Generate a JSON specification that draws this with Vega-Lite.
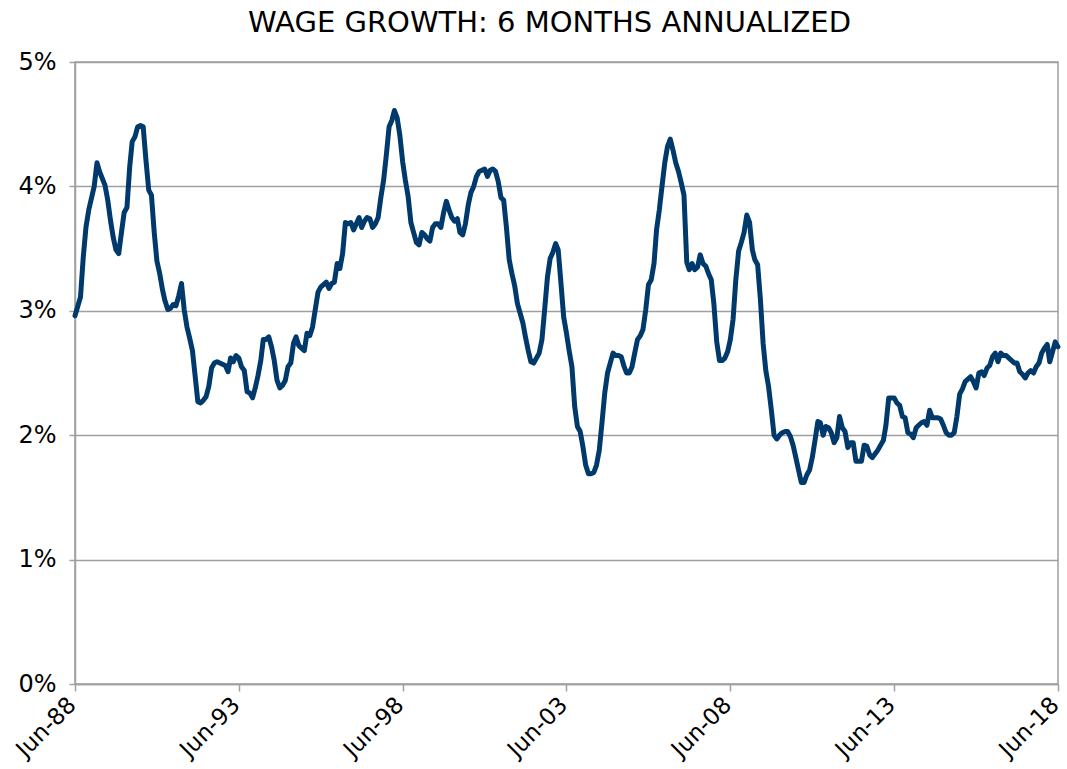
{
 "$schema": "https://vega.github.io/schema/vega-lite/v6.json",
 "width": 983,
 "height": 622,
 "autosize": {"type": "none"},
 "padding": {"left": 75, "top": 62, "right": 9, "bottom": 85},
 "background": "white",
 "title": {"text": "WAGE GROWTH: 6 MONTHS ANNUALIZED", "font": "DejaVu Sans", "fontSize": 29, "fontWeight": "normal", "color": "#000000", "anchor": "middle", "frame": "group", "dx": -17, "dy": 28, "offset": 17, "baseline": "alphabetic"},
 "config": {"view": {"stroke": "#a0a0a0", "strokeWidth": 1.5}, "font": "DejaVu Sans"},
 "data": {
  "format": {"parse": {"d": "utc:'%Y-%m'"}},
  "values": [
   {"d":"1988-06","v":2.96},{"d":"1988-08","v":3.11},{"d":"1988-09","v":3.43},{"d":"1988-10","v":3.67},{"d":"1988-11","v":3.81},
   {"d":"1989-01","v":4.00},{"d":"1989-02","v":4.19},{"d":"1989-03","v":4.12},{"d":"1989-05","v":4.01},{"d":"1989-06","v":3.89},{"d":"1989-07","v":3.73},{"d":"1989-08","v":3.59},{"d":"1989-09","v":3.49},{"d":"1989-10","v":3.46},{"d":"1989-11","v":3.63},{"d":"1989-12","v":3.79},
   {"d":"1990-01","v":3.83},{"d":"1990-02","v":4.16},{"d":"1990-03","v":4.36},{"d":"1990-04","v":4.40},{"d":"1990-05","v":4.48},{"d":"1990-06","v":4.49},{"d":"1990-07","v":4.48},{"d":"1990-08","v":4.21},{"d":"1990-09","v":3.97},{"d":"1990-10","v":3.93},{"d":"1990-11","v":3.63},{"d":"1990-12","v":3.40},
   {"d":"1991-01","v":3.30},{"d":"1991-02","v":3.17},{"d":"1991-03","v":3.08},{"d":"1991-04","v":3.01},{"d":"1991-05","v":3.02},{"d":"1991-06","v":3.05},{"d":"1991-07","v":3.04},{"d":"1991-08","v":3.12},{"d":"1991-09","v":3.22},{"d":"1991-10","v":3.01},{"d":"1991-11","v":2.87},{"d":"1991-12","v":2.78},
   {"d":"1992-01","v":2.68},{"d":"1992-02","v":2.47},{"d":"1992-03","v":2.27},{"d":"1992-04","v":2.26},{"d":"1992-05","v":2.28},{"d":"1992-06","v":2.31},{"d":"1992-07","v":2.39},{"d":"1992-08","v":2.54},{"d":"1992-09","v":2.58},{"d":"1992-10","v":2.59},{"d":"1992-11","v":2.58},{"d":"1992-12","v":2.57},
   {"d":"1993-01","v":2.56},{"d":"1993-02","v":2.51},{"d":"1993-03","v":2.62},{"d":"1993-04","v":2.59},{"d":"1993-05","v":2.64},{"d":"1993-06","v":2.62},{"d":"1993-07","v":2.55},{"d":"1993-08","v":2.52},{"d":"1993-09","v":2.35},{"d":"1993-10","v":2.34},{"d":"1993-11","v":2.30},{"d":"1993-12","v":2.38},
   {"d":"1994-01","v":2.48},{"d":"1994-02","v":2.60},{"d":"1994-03","v":2.77},{"d":"1994-04","v":2.77},{"d":"1994-05","v":2.79},{"d":"1994-06","v":2.71},{"d":"1994-07","v":2.60},{"d":"1994-08","v":2.44},{"d":"1994-09","v":2.38},{"d":"1994-10","v":2.40},{"d":"1994-11","v":2.44},{"d":"1994-12","v":2.55},
   {"d":"1995-01","v":2.58},{"d":"1995-02","v":2.74},{"d":"1995-03","v":2.79},{"d":"1995-04","v":2.72},{"d":"1995-05","v":2.70},{"d":"1995-06","v":2.68},{"d":"1995-07","v":2.82},{"d":"1995-08","v":2.80},{"d":"1995-09","v":2.87},{"d":"1995-10","v":3.01},{"d":"1995-11","v":3.15},{"d":"1995-12","v":3.19},
   {"d":"1996-01","v":3.21},{"d":"1996-02","v":3.23},{"d":"1996-03","v":3.18},{"d":"1996-04","v":3.22},{"d":"1996-05","v":3.23},{"d":"1996-06","v":3.38},{"d":"1996-07","v":3.34},{"d":"1996-08","v":3.46},{"d":"1996-09","v":3.71},{"d":"1996-10","v":3.70},{"d":"1996-11","v":3.71},{"d":"1996-12","v":3.65},
   {"d":"1997-01","v":3.70},{"d":"1997-02","v":3.75},{"d":"1997-03","v":3.67},{"d":"1997-04","v":3.72},{"d":"1997-05","v":3.75},{"d":"1997-06","v":3.74},{"d":"1997-07","v":3.67},{"d":"1997-08","v":3.70},{"d":"1997-09","v":3.75},{"d":"1997-10","v":3.91},{"d":"1997-11","v":4.05},{"d":"1997-12","v":4.25},
   {"d":"1998-01","v":4.48},{"d":"1998-02","v":4.53},{"d":"1998-03","v":4.61},{"d":"1998-04","v":4.55},{"d":"1998-05","v":4.41},{"d":"1998-06","v":4.20},{"d":"1998-07","v":4.05},{"d":"1998-08","v":3.92},{"d":"1998-09","v":3.71},{"d":"1998-10","v":3.63},{"d":"1998-11","v":3.55},{"d":"1998-12","v":3.53},
   {"d":"1999-01","v":3.63},{"d":"1999-02","v":3.61},{"d":"1999-03","v":3.58},{"d":"1999-04","v":3.56},{"d":"1999-05","v":3.67},{"d":"1999-06","v":3.70},{"d":"1999-07","v":3.70},{"d":"1999-08","v":3.67},{"d":"1999-09","v":3.79},{"d":"1999-10","v":3.88},{"d":"1999-11","v":3.81},{"d":"1999-12","v":3.75},
   {"d":"2000-01","v":3.72},{"d":"2000-02","v":3.74},{"d":"2000-03","v":3.63},{"d":"2000-04","v":3.61},{"d":"2000-05","v":3.70},{"d":"2000-06","v":3.85},{"d":"2000-07","v":3.95},{"d":"2000-08","v":4.00},{"d":"2000-09","v":4.08},{"d":"2000-10","v":4.12},{"d":"2000-11","v":4.13},{"d":"2000-12","v":4.14},
   {"d":"2001-01","v":4.08},{"d":"2001-02","v":4.13},{"d":"2001-03","v":4.14},{"d":"2001-04","v":4.12},{"d":"2001-05","v":4.04},{"d":"2001-06","v":3.91},{"d":"2001-07","v":3.89},{"d":"2001-08","v":3.67},{"d":"2001-09","v":3.41},{"d":"2001-10","v":3.30},{"d":"2001-11","v":3.20},{"d":"2001-12","v":3.06},
   {"d":"2002-01","v":2.98},{"d":"2002-02","v":2.90},{"d":"2002-03","v":2.79},{"d":"2002-04","v":2.68},{"d":"2002-05","v":2.59},{"d":"2002-06","v":2.58},{"d":"2002-07","v":2.62},{"d":"2002-08","v":2.66},{"d":"2002-09","v":2.77},{"d":"2002-10","v":3.01},{"d":"2002-11","v":3.27},{"d":"2002-12","v":3.42},
   {"d":"2003-01","v":3.47},{"d":"2003-02","v":3.54},{"d":"2003-03","v":3.49},{"d":"2003-04","v":3.22},{"d":"2003-05","v":2.95},{"d":"2003-06","v":2.82},{"d":"2003-07","v":2.68},{"d":"2003-08","v":2.55},{"d":"2003-09","v":2.23},{"d":"2003-10","v":2.07},{"d":"2003-11","v":2.03},{"d":"2003-12","v":1.91},
   {"d":"2004-01","v":1.76},{"d":"2004-02","v":1.69},{"d":"2004-03","v":1.69},{"d":"2004-04","v":1.70},{"d":"2004-05","v":1.76},{"d":"2004-06","v":1.88},{"d":"2004-07","v":2.10},{"d":"2004-08","v":2.34},{"d":"2004-09","v":2.50},{"d":"2004-10","v":2.58},{"d":"2004-11","v":2.66},{"d":"2004-12","v":2.64},
   {"d":"2005-01","v":2.64},{"d":"2005-02","v":2.63},{"d":"2005-03","v":2.56},{"d":"2005-04","v":2.50},{"d":"2005-05","v":2.50},{"d":"2005-06","v":2.55},{"d":"2005-07","v":2.66},{"d":"2005-08","v":2.77},{"d":"2005-09","v":2.80},{"d":"2005-10","v":2.85},{"d":"2005-11","v":3.01},{"d":"2005-12","v":3.21},
   {"d":"2006-01","v":3.25},{"d":"2006-02","v":3.38},{"d":"2006-03","v":3.65},{"d":"2006-04","v":3.81},{"d":"2006-05","v":4.00},{"d":"2006-06","v":4.19},{"d":"2006-07","v":4.32},{"d":"2006-08","v":4.38},{"d":"2006-09","v":4.29},{"d":"2006-10","v":4.19},{"d":"2006-11","v":4.12},{"d":"2006-12","v":4.03},
   {"d":"2007-01","v":3.93},{"d":"2007-02","v":3.39},{"d":"2007-03","v":3.33},{"d":"2007-04","v":3.38},{"d":"2007-05","v":3.33},{"d":"2007-06","v":3.35},{"d":"2007-07","v":3.45},{"d":"2007-08","v":3.38},{"d":"2007-09","v":3.36},{"d":"2007-10","v":3.30},{"d":"2007-11","v":3.25},{"d":"2007-12","v":3.05},
   {"d":"2008-01","v":2.75},{"d":"2008-02","v":2.60},{"d":"2008-03","v":2.60},{"d":"2008-04","v":2.62},{"d":"2008-05","v":2.67},{"d":"2008-06","v":2.77},{"d":"2008-07","v":2.93},{"d":"2008-08","v":3.25},{"d":"2008-09","v":3.48},{"d":"2008-10","v":3.55},{"d":"2008-11","v":3.63},{"d":"2008-12","v":3.77},
   {"d":"2009-01","v":3.71},{"d":"2009-02","v":3.49},{"d":"2009-03","v":3.41},{"d":"2009-04","v":3.37},{"d":"2009-05","v":3.10},{"d":"2009-06","v":2.74},{"d":"2009-07","v":2.52},{"d":"2009-08","v":2.39},{"d":"2009-09","v":2.20},{"d":"2009-10","v":2.00},{"d":"2009-11","v":1.97},{"d":"2009-12","v":2.00},
   {"d":"2010-01","v":2.02},{"d":"2010-02","v":2.03},{"d":"2010-03","v":2.03},{"d":"2010-04","v":1.99},{"d":"2010-05","v":1.92},{"d":"2010-06","v":1.82},{"d":"2010-07","v":1.72},{"d":"2010-08","v":1.62},{"d":"2010-09","v":1.62},{"d":"2010-10","v":1.68},{"d":"2010-11","v":1.72},{"d":"2010-12","v":1.82},
   {"d":"2011-01","v":1.96},{"d":"2011-02","v":2.11},{"d":"2011-03","v":2.10},{"d":"2011-04","v":2.00},{"d":"2011-05","v":2.07},{"d":"2011-06","v":2.06},{"d":"2011-07","v":2.02},{"d":"2011-08","v":1.94},{"d":"2011-09","v":1.98},{"d":"2011-10","v":2.15},{"d":"2011-11","v":2.06},{"d":"2011-12","v":2.03},
   {"d":"2012-01","v":1.90},{"d":"2012-02","v":1.94},{"d":"2012-03","v":1.94},{"d":"2012-04","v":1.79},{"d":"2012-05","v":1.79},{"d":"2012-06","v":1.79},{"d":"2012-07","v":1.92},{"d":"2012-08","v":1.91},{"d":"2012-09","v":1.84},{"d":"2012-10","v":1.82},{"d":"2012-11","v":1.85},{"d":"2012-12","v":1.88},
   {"d":"2013-01","v":1.92},{"d":"2013-02","v":1.96},{"d":"2013-03","v":2.08},{"d":"2013-04","v":2.30},{"d":"2013-05","v":2.30},{"d":"2013-06","v":2.30},{"d":"2013-07","v":2.26},{"d":"2013-08","v":2.24},{"d":"2013-09","v":2.15},{"d":"2013-10","v":2.14},{"d":"2013-11","v":2.02},{"d":"2013-12","v":2.01},
   {"d":"2014-01","v":1.98},{"d":"2014-02","v":2.06},{"d":"2014-03","v":2.08},{"d":"2014-04","v":2.10},{"d":"2014-05","v":2.11},{"d":"2014-06","v":2.08},{"d":"2014-07","v":2.20},{"d":"2014-08","v":2.14},{"d":"2014-09","v":2.14},{"d":"2014-10","v":2.14},{"d":"2014-11","v":2.13},{"d":"2014-12","v":2.08},
   {"d":"2015-01","v":2.02},{"d":"2015-02","v":2.00},{"d":"2015-03","v":2.00},{"d":"2015-04","v":2.02},{"d":"2015-05","v":2.15},{"d":"2015-06","v":2.33},{"d":"2015-07","v":2.37},{"d":"2015-08","v":2.43},{"d":"2015-09","v":2.45},{"d":"2015-10","v":2.47},{"d":"2015-11","v":2.43},{"d":"2015-12","v":2.38},
   {"d":"2016-01","v":2.50},{"d":"2016-02","v":2.51},{"d":"2016-03","v":2.48},{"d":"2016-04","v":2.54},{"d":"2016-05","v":2.56},{"d":"2016-06","v":2.63},{"d":"2016-07","v":2.66},{"d":"2016-08","v":2.59},{"d":"2016-09","v":2.66},{"d":"2016-10","v":2.64},{"d":"2016-11","v":2.64},{"d":"2016-12","v":2.62},
   {"d":"2017-01","v":2.60},{"d":"2017-02","v":2.58},{"d":"2017-03","v":2.58},{"d":"2017-04","v":2.51},{"d":"2017-05","v":2.49},{"d":"2017-06","v":2.46},{"d":"2017-07","v":2.50},{"d":"2017-08","v":2.52},{"d":"2017-09","v":2.50},{"d":"2017-10","v":2.55},{"d":"2017-11","v":2.58},{"d":"2017-12","v":2.66},
   {"d":"2018-01","v":2.70},{"d":"2018-02","v":2.73},{"d":"2018-03","v":2.59},{"d":"2018-04","v":2.67},{"d":"2018-05","v":2.75},{"d":"2018-06","v":2.71}
  ]
 },
 "mark": {"type": "line", "color": "#003a6c", "strokeWidth": 5, "strokeJoin": "round", "strokeCap": "round"},
 "encoding": {
  "x": {
   "field": "d", "type": "temporal",
   "scale": {"type": "utc", "domain": [{"year": 1988, "month": 6, "date": 1, "utc": true}, {"year": 2018, "month": 6, "date": 1, "utc": true}]},
   "axis": {
    "values": [
     {"year": 1988, "month": 6, "date": 1, "utc": true},
     {"year": 1993, "month": 6, "date": 1, "utc": true},
     {"year": 1998, "month": 6, "date": 1, "utc": true},
     {"year": 2003, "month": 6, "date": 1, "utc": true},
     {"year": 2008, "month": 6, "date": 1, "utc": true},
     {"year": 2013, "month": 6, "date": 1, "utc": true},
     {"year": 2018, "month": 6, "date": 1, "utc": true}
    ],
    "format": "%b-%y", "labelAngle": -45, "labelAlign": "right", "labelBaseline": "middle",
    "labelFont": "DejaVu Sans", "labelFontSize": 23, "labelColor": "#000000",
    "labelOverlap": false, "labelFlush": false, "labelPadding": 10, "labelOffset": -3,
    "tickColor": "#a0a0a0", "tickSize": 7, "tickWidth": 1.5,
    "domainColor": "#a0a0a0", "domainWidth": 1.5, "grid": false, "title": null
   }
  },
  "y": {
   "field": "v", "type": "quantitative",
   "scale": {"domain": [0, 5], "nice": false},
   "axis": {
    "values": [0, 1, 2, 3, 4, 5], "labelExpr": "datum.value + '%'",
    "labelFont": "DejaVu Sans", "labelFontSize": 24, "labelColor": "#000000", "labelPadding": 13,
    "grid": true, "gridColor": "#a0a0a0", "gridWidth": 1.5,
    "tickColor": "#a0a0a0", "tickSize": 6, "tickWidth": 1.5,
    "domainColor": "#a0a0a0", "domainWidth": 1.5, "title": null
   }
  }
 }
}
